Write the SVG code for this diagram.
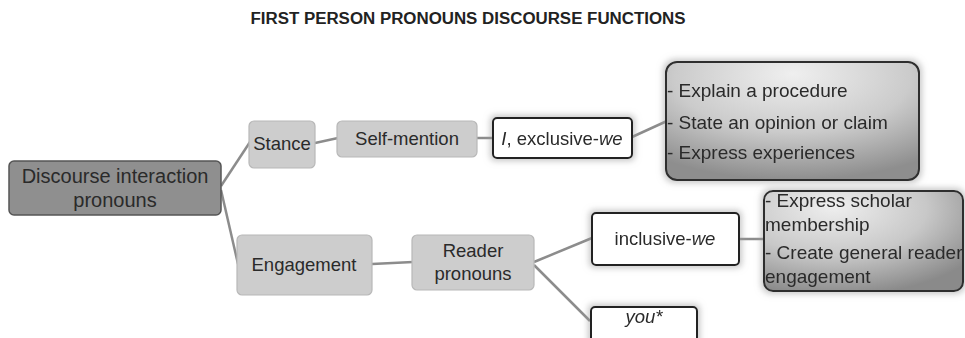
<svg xmlns="http://www.w3.org/2000/svg" width="965" height="338" viewBox="0 0 965 338">
<defs>
<filter id="glow" x="-20%" y="-30%" width="140%" height="160%">
<feMorphology in="SourceAlpha" operator="dilate" radius="2" result="d"/>
<feGaussianBlur in="d" stdDeviation="3" result="b"/>
<feFlood flood-color="#9a9a9a" flood-opacity="0.55"/>
<feComposite in2="b" operator="in" result="s"/>
<feMerge><feMergeNode in="s"/><feMergeNode in="SourceGraphic"/></feMerge>
</filter>
<radialGradient id="grad1" cx="50%" cy="15%" r="85%" fx="50%" fy="10%">
<stop offset="0" stop-color="#efefef"/>
<stop offset="0.55" stop-color="#cbcbcb"/>
<stop offset="1" stop-color="#8e8e8e"/>
</radialGradient>
<radialGradient id="grad2" cx="35%" cy="20%" r="85%" fx="35%" fy="15%">
<stop offset="0" stop-color="#efefef"/>
<stop offset="0.55" stop-color="#c8c8c8"/>
<stop offset="1" stop-color="#8a8a8a"/>
</radialGradient>
</defs>
<style>
text{font-family:"Liberation Sans",Arial,sans-serif;fill:#2a2a2a}
.title{font-weight:bold;font-size:16px;fill:#222}
.n{font-size:18.5px;text-anchor:middle}
.b{font-size:19px}
.light{fill:#cdcdcd;stroke:#b8b8b8;stroke-width:1.2}
.main{fill:#8f8f8f;stroke:#555;stroke-width:1.5}
.white{fill:#fff;stroke:#222;stroke-width:2}
.dark{stroke:#2e2e2e;stroke-width:2}
.c line{stroke:#8c8c8c;stroke-width:2.5;fill:none}
</style>
<text class="title" x="468" y="24" text-anchor="middle" textLength="435" lengthAdjust="spacingAndGlyphs">FIRST PERSON PRONOUNS DISCOURSE FUNCTIONS</text>
<g class="c" id="connectors">
<line x1="221" y1="186" x2="250" y2="142"/>
<line x1="221" y1="190" x2="238" y2="264"/>
<line x1="315" y1="143" x2="338" y2="138"/>
<line x1="477" y1="138" x2="494" y2="138"/>
<line x1="632" y1="137" x2="667" y2="121"/>
<line x1="372" y1="264" x2="413" y2="262"/>
<line x1="534" y1="262" x2="592" y2="238"/>
<line x1="534" y1="265" x2="590" y2="321"/>
<line x1="739" y1="239" x2="765" y2="239"/>
</g>
<g id="main">
<rect class="main" x="9" y="161" width="212" height="54" rx="5"/>
<text class="n" x="115" y="183" style="font-size:20px">Discourse interaction</text>
<text class="n" x="115" y="207" style="font-size:20px">pronouns</text>
</g>
<g id="stance">
<rect class="light" x="249" y="121" width="66" height="47" rx="5"/>
<text class="n" x="282" y="150">Stance</text>
</g>
<g id="selfmention">
<rect class="light" x="337" y="121" width="140" height="36" rx="5"/>
<text class="n" x="407" y="145">Self-mention</text>
</g>
<g id="exclusive" filter="url(#glow)">
<rect class="white" x="493" y="118" width="139" height="40" rx="4"/>
<text class="n" x="562" y="145" font-style="italic">I<tspan font-style="normal">, exclusive-</tspan>we</text>
</g>
<g id="functions1" filter="url(#glow)">
<rect class="dark" x="666" y="62" width="253" height="118" rx="11" fill="url(#grad1)"/>
<text class="b" x="667" y="97">- Explain a procedure</text>
<text class="b" x="667" y="129">- State an opinion or claim</text>
<text class="b" x="667" y="159">- Express experiences</text>
</g>
<g id="engagement">
<rect class="light" x="237" y="235" width="135" height="60" rx="5"/>
<text class="n" x="304" y="271">Engagement</text>
</g>
<g id="reader">
<rect class="light" x="412" y="235" width="122" height="55" rx="5"/>
<text class="n" x="473" y="257">Reader</text>
<text class="n" x="473" y="280">pronouns</text>
</g>
<g id="inclusive" filter="url(#glow)">
<rect class="white" x="592" y="213" width="147" height="52" rx="4"/>
<text class="n" x="665" y="245">inclusive-<tspan font-style="italic">we</tspan></text>
</g>
<g id="functions2" filter="url(#glow)">
<rect class="dark" x="764" y="191" width="199" height="100" rx="9" fill="url(#grad2)"/>
<text class="b" x="765" y="207">- Express scholar</text>
<text class="b" x="765" y="231">membership</text>
<text class="b" x="765" y="259">- Create general reader</text>
<text class="b" x="765" y="283">engagement</text>
</g>
<g id="you" filter="url(#glow)">
<rect class="white" x="591" y="307" width="106" height="45" rx="4"/>
<text class="n" x="644" y="323" font-style="italic">you*</text>
</g>
</svg>
